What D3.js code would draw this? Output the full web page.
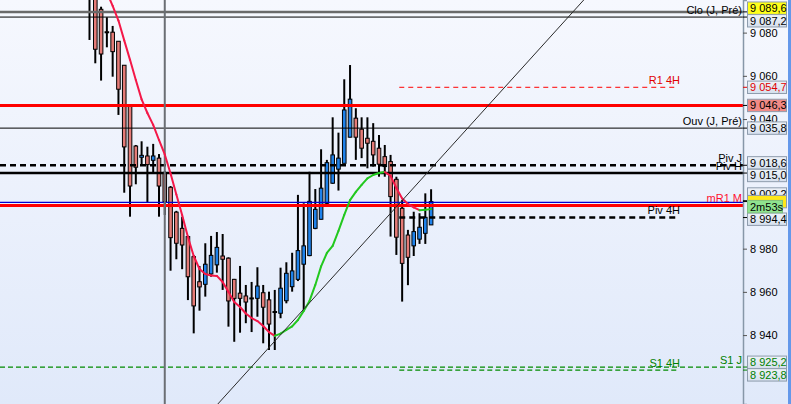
<!DOCTYPE html>
<html>
<head>
<meta charset="utf-8">
<script src="https://cdn.jsdelivr.net/npm/d3@7"></script>
<style>
body { margin: 0; background: #fff; }
svg { display: block; font-family: "Liberation Sans", Arial, sans-serif; }
</style>
</head>
<body>
<svg id="chart" width="791" height="404"></svg>
<script>
// candle values (index 0 = leftmost candle)
const opens = [9099, 9097, 9090.8, 9080.4, 9080.2, 9076.0, 9064.9, 9045.9, 9027.5, 9022.3,
	9022.9, 9020.9, 9021.9, 9015.2, 9008.4, 8996.9, 8989.4, 8985.6, 8976.3, 8964.7,
	8963.5, 8968.3, 8972.5, 8976.6, 8975.6, 8965.8, 8959.4, 8958.1, 8957.2, 8957.0,
	8959.6, 8956.3, 8950.8, 8950.1, 8955.9, 8962.4, 8965.8, 8972.8, 8976.8, 8989.4,
	8993.6, 9001.0, 9010.3, 9016.8, 9019.5, 9031.6, 9040.4, 9035.3, 9031.1, 9029.7,
	9026.5, 9022.6, 9020.3, 9012.1, 8998.7, 8986.3, 8981.3, 8984.4, 8987.1, 8991.0];
const highs = [9110, 9099, 9092, 9087.1, 9083.1, 9076.0, 9065.0, 9046.0, 9028.0, 9029.7,
	9027.2, 9028.5, 9023.8, 9016.0, 9009.0, 8997.5, 8994.8, 8986.0, 8977.0, 8972.0,
	8982.5, 8985.9, 8987.7, 8986.8, 8976.0, 8966.0, 8972.0, 8963.2, 8964.6, 8971.4,
	8963.2, 8960.1, 8960.9, 8971.2, 8973.7, 8978.1, 9004.9, 9001.0, 9015.6, 9007.6,
	9026.0, 9021.1, 9040.8, 9033.7, 9058.4, 9065.0, 9045.0, 9040.8, 9040.8, 9038.1,
	9032.6, 9028.0, 9023.4, 9013.3, 9002.5, 8988.7, 8997.1, 8996.4, 9005.6, 9007.5];
const lows = [9076.6, 9065.8, 9057.8, 9073.2, 9059.6, 9041.9, 9005.9, 8994.8, 9009.8, 9018.3,
	9001.5, 9015.2, 8994.8, 8995.6, 8969.8, 8975.1, 8970.5, 8956.2, 8940.8, 8951.3,
	8957.8, 8967.0, 8968.9, 8960.9, 8943.9, 8936.9, 8941.1, 8945.5, 8941.4, 8948.5,
	8936.2, 8933.1, 8933.1, 8947.8, 8954.7, 8960.1, 8965.0, 8951.6, 8976.5, 8989.0,
	8993.5, 9000.2, 9010.0, 9006.9, 9019.5, 9031.5, 9021.1, 9021.9, 9017.2, 9018.0,
	9013.3, 9013.3, 8985.6, 8977.1, 8955.5, 8963.1, 8976.6, 8982.2, 8982.2, 8991.0];
const closes = [9096, 9072.3, 9070.1, 9080.0, 9071.2, 9053.8, 9027.1, 9009.0, 9017.7, 9023.2,
	9018.9, 9022.9, 9009.0, 9001.8, 8985.1, 8982.5, 8981.7, 8967.0, 8953.5, 8962.3,
	8972.8, 8976.9, 8980.6, 8975.1, 8955.8, 8957.0, 8957.0, 8955.3, 8957.0, 8962.7,
	8952.9, 8945.1, 8950.9, 8961.7, 8968.6, 8969.7, 8979.1, 8981.3, 9001.9, 8998.2,
	9008.0, 9019.8, 9023.4, 9021.9, 9044.2, 9049.2, 9031.6, 9026.5, 9028.8, 9023.4,
	9019.1, 9018.0, 9004.1, 8985.3, 8973.2, 8976.0, 8987.9, 8989.9, 8994.5, 9001.8];
// moving average (red when falling, green when rising)
const movingAvg = [null, null, 9104.9, 9098.6, 9092.4, 9085.6, 9076.4, 9067.4, 9058.1, 9049.1,
	9042.8, 9037.3, 9030.3, 9023.6, 9014.8, 9005.1, 8995.6, 8985.4, 8976.6, 8970.6,
	8968.3, 8967.6, 8967.4, 8964.6, 8960.0, 8955.3, 8953.0, 8950.0, 8947.9, 8946.5,
	8944.2, 8941.4, 8939.6, 8940.7, 8942.4, 8944.0, 8947.0, 8951.2, 8955.8, 8963.2,
	8971.8, 8978.0, 8981.3, 8988.2, 8995.6, 9002.5, 9006.3, 9009.5, 9012.5, 9014.1,
	9015.0, 9015.5, 9013.7, 9008.1, 9003.2, 9000.7, 8999.1, 8997.8, 8998.0, 8998.3];

// price levels drawn across the chart
const levelNames = ["Clo (J, Pré)", "", "R1 4H", "", "Ouv (J, Pré)", "Piv J", "Piv H", "mR1 M", "", "Piv 4H", "S1 J", "S1 4H"];
const levelPrices = [9089.6, 9087.2, 9054.7, 9046.3, 9035.8, 9018.6, 9015.0, 9000.0, 9001.4, 8994.4, 8925.2, 8923.8];

// price boxes on the right axis
const boxPrices = [9089.6, 9087.2, 9054.7, 9046.3, 9035.8, 9018.6, 9015.0, 9002.2, 9001.8, 8994.4, 8925.2, 8923.8];
const timerText = "2m53s";

// 9 000 and 9 020 sit behind the price boxes, so only these are readable
const tickValues = [8940, 8960, 8980, 9040, 9060, 9080];
const separatorIndex = 13;   // session separator
const fourHourStart = 53.5;  // start of the current 4H period
const trendIndex = [32, 59];
const trendPrice = [8937.2, 9017.1];

// ---------- setup ----------
const width = 791, height = 404;
const axisX = 743;

const svg = d3.select("#chart");

const x = d3.scaleLinear()
	.domain([0, opens.length - 1])
	.range([89.5, 431.1]);

const y = d3.scaleLinear()
	.domain([8908.1, 9095.1])
	.range([height, 0]);

const locale = d3.formatLocale({decimal: ",", thousands: " ", grouping: [3], currency: ["", ""]});
const fmtTick = locale.format(",.0f");
const fmtBox = locale.format(",.1f");

// background
let defs = svg.append("defs");
let grad = defs.append("linearGradient")
	.attr("id", "bg")
	.attr("x1", 0).attr("y1", 0).attr("x2", 0).attr("y2", 1);
grad.append("stop").attr("offset", "0%").attr("stop-color", "#f6f8fe");
grad.append("stop").attr("offset", "100%").attr("stop-color", "#e0e9fa");

let boxGrad = defs.append("linearGradient")
	.attr("id", "boxbg")
	.attr("x1", 0).attr("y1", 0).attr("x2", 0).attr("y2", 1);
boxGrad.append("stop").attr("offset", "0%").attr("stop-color", "#eef2f8");
boxGrad.append("stop").attr("offset", "100%").attr("stop-color", "#d6e0ee");

defs.append("clipPath").attr("id", "plotclip")
	.append("rect").attr("x", 0).attr("y", 0).attr("width", axisX).attr("height", height);

svg.append("rect")
	.attr("width", width).attr("height", height)
	.attr("fill", "url(#bg)");

svg.append("rect")
	.attr("x", 788).attr("y", 0)
	.attr("width", 3).attr("height", height)
	.attr("fill", "#6498ea");

let plot = svg.append("g").attr("clip-path", "url(#plotclip)");

// ---------- candles ----------
let candles = plot.append("g");
let idx = d3.range(opens.length);

candles.selectAll("line.wick")
	.data(idx)
	.enter()
	.append("line")
	.attr("class", "wick")
	.attr("x1", function(i) { return x(i); })
	.attr("x2", function(i) { return x(i); })
	.attr("y1", function(i) { return y(highs[i]); })
	.attr("y2", function(i) { return y(lows[i]); })
	.attr("stroke", "#000")
	.attr("stroke-width", 2);

candles.selectAll("rect.body")
	.data(idx)
	.enter()
	.append("rect")
	.attr("class", "body")
	.attr("x", function(i) { return x(i) - 1.8; })
	.attr("width", 3.6)
	.attr("y", function(i) { return y(Math.max(opens[i], closes[i])); })
	.attr("height", function(i) {
		return Math.max(1, Math.abs(y(opens[i]) - y(closes[i])));
	})
	.attr("fill", function(i) { return closes[i] >= opens[i] ? "#1f82ea" : "#e57b77"; })
	.attr("stroke", "#000")
	.attr("stroke-width", 1);

// ---------- horizontal levels ----------
const levelStyle = [
	{color: "#6a6a6a", w: 2.5, dash: null, span: "full"},
	{color: "#000", w: 1, dash: null, span: "full"},
	{color: "#ff0000", w: 1, dash: "5,4", span: "4h"},
	{color: "#ff0000", w: 3, dash: null, span: "full"},
	{color: "#000", w: 1, dash: null, span: "full"},
	{color: "#000", w: 2.5, dash: "6,4", span: "full"},
	{color: "#000", w: 2.5, dash: null, span: "full"},
	{color: "#ff0000", w: 3, dash: null, span: "full"},
	{color: "#0000d0", w: 1.3, dash: null, span: "full"},
	{color: "#000", w: 2.5, dash: "6,4", span: "4h"},
	{color: "#008a00", w: 1.2, dash: "5,3", span: "full"},
	{color: "#008a00", w: 1.2, dash: "5,3", span: "4h"}
];
const labelColor = ["#000", "#000", "#e00000", "#000", "#000", "#000", "#000", "#ff1030", "#000", "#000", "#008000", "#008000"];

let levels = plot.append("g");
levelPrices.forEach(function(p, k) {
	let s = levelStyle[k];
	let x1 = s.span === "full" ? 0 : x(fourHourStart);
	let x2 = s.span === "full" ? axisX : 678;
	levels.append("line")
		.attr("x1", x1).attr("x2", x2)
		.attr("y1", y(p)).attr("y2", y(p))
		.attr("stroke", s.color)
		.attr("stroke-width", s.w)
		.attr("stroke-dasharray", s.dash);
});

// session separator
plot.append("line")
	.attr("x1", x(separatorIndex)).attr("x2", x(separatorIndex))
	.attr("y1", 0).attr("y2", height)
	.attr("stroke", "#6b6e74")
	.attr("stroke-width", 2);

// ---------- moving average ----------
let maGroup = plot.append("g");
let maLine = d3.line()
	.x(function(d) { return x(d.i); })
	.y(function(d) { return y(d.v); });
for (let i = 1; i < movingAvg.length; i++) {
	if (movingAvg[i - 1] === null || movingAvg[i] === null) continue;
	let rising = movingAvg[i] > movingAvg[i - 1];
	maGroup.append("path")
		.attr("d", maLine([{i: i - 1, v: movingAvg[i - 1]}, {i: i, v: movingAvg[i]}]))
		.attr("fill", "none")
		.attr("stroke", rising ? "#22c81e" : "#f41848")
		.attr("stroke-width", 2)
		.attr("stroke-linecap", "round");
}

// ---------- trend line ----------
let slope = (trendPrice[1] - trendPrice[0]) / (trendIndex[1] - trendIndex[0]);
let tStart = x.invert(0), tEnd = x.invert(axisX);
plot.append("line")
	.attr("x1", x(tStart))
	.attr("y1", y(trendPrice[0] + (tStart - trendIndex[0]) * slope))
	.attr("x2", x(tEnd))
	.attr("y2", y(trendPrice[0] + (tEnd - trendIndex[0]) * slope))
	.attr("stroke", "#2a2a2a")
	.attr("stroke-width", 1);

// ---------- level labels ----------
levelNames.forEach(function(name, k) {
	if (!name) return;
	let s = levelStyle[k];
	let right = s.span === "full" ? 742 : 680;
	plot.append("text")
		.attr("x", right)
		.attr("y", Math.max(y(levelPrices[k]) - 3.5, 14))
		.attr("text-anchor", "end")
		.attr("font-size", "11px")
		.attr("fill", labelColor[k])
		.text(name);
});

// ---------- right axis ----------
let axis = d3.axisRight(y)
	.tickValues(tickValues)
	.tickSize(4)
	.tickPadding(3)
	.tickFormat(fmtTick);

let axisG = svg.append("g")
	.attr("transform", "translate(" + axisX + ",0)")
	.call(axis);
axisG.select(".domain").attr("stroke", "#8797a8").attr("stroke-width", 1.5);
axisG.selectAll(".tick line").attr("stroke", "#555");
axisG.selectAll(".tick text")
	.attr("font-size", "11px")
	.attr("font-family", "Liberation Sans, Arial, sans-serif")
	.attr("fill", "#000");

// boxes: spread overlapping ones around their mean
const boxH = 12.6;
let boxes = boxPrices.map(function(p, k) { return {k: k, p: p, y0: y(p)}; });
boxes.sort(function(a, b) { return a.y0 - b.y0; });
let groups = boxes.map(function(b) { return {items: [b]}; });
let merged = true;
function center(g) { return d3.mean(g.items, function(b) { return b.y0; }); }
while (merged) {
	merged = false;
	for (let g = 0; g < groups.length - 1; g++) {
		let a = groups[g], b = groups[g + 1];
		if (center(a) + a.items.length * boxH / 2 > center(b) - b.items.length * boxH / 2) {
			groups.splice(g, 2, {items: a.items.concat(b.items)});
			merged = true;
			break;
		}
	}
}
groups.forEach(function(g) {
	let c = center(g);
	g.items.forEach(function(b, j) {
		b.y = c + (j - (g.items.length - 1) / 2) * boxH;
	});
});

const boxFill = ["#ffff1a", "url(#boxbg)", "url(#boxbg)", "#f08a86", "url(#boxbg)", "url(#boxbg)", "url(#boxbg)", "url(#boxbg)", "#ffe81a", "url(#boxbg)", "url(#boxbg)", "url(#boxbg)"];
const boxText = ["#000", "#000", "#e00000", "#000", "#000", "#000", "#000", "#000", "#000", "#000", "#008000", "#008000"];

// draw order: the cleared boxes first, the highlighted ones on top
let order = [1, 2, 3, 4, 5, 6, 7, 9, 10, 11, 0, 8];
let boxG = svg.append("g");
order.forEach(function(k) {
	let b = boxes.find(function(d) { return d.k === k; });
	let by = k === 8 ? b.y - 5 : b.y;
	boxG.append("line")
		.attr("x1", axisX).attr("x2", 747)
		.attr("y1", y(b.p)).attr("y2", y(b.p))
		.attr("stroke", boxText[k]);
	boxG.append("rect")
		.attr("x", 747.5).attr("y", by - 6.2)
		.attr("width", 39).attr("height", 12.4)
		.attr("fill", boxFill[k])
		.attr("stroke", "#8e9cad")
		.attr("stroke-width", 1);
	if (k === 8) {
		// current price box is covered by the countdown box
		boxG.append("rect")
			.attr("x", 747.5).attr("y", b.y - 6.2)
			.attr("width", 35).attr("height", 12.4)
			.attr("fill", "#8fe38f")
			.attr("stroke", "#7fbf7f")
			.attr("stroke-width", 1);
		boxG.append("text")
			.attr("x", 750).attr("y", b.y + 4)
			.attr("font-size", "11px")
			.attr("fill", "#000")
			.text(timerText);
	} else {
		boxG.append("text")
			.attr("x", 750).attr("y", by + 4)
			.attr("font-size", "11px")
			.attr("fill", boxText[k])
			.text(fmtBox(b.p));
	}
});
</script>
</body>
</html>
